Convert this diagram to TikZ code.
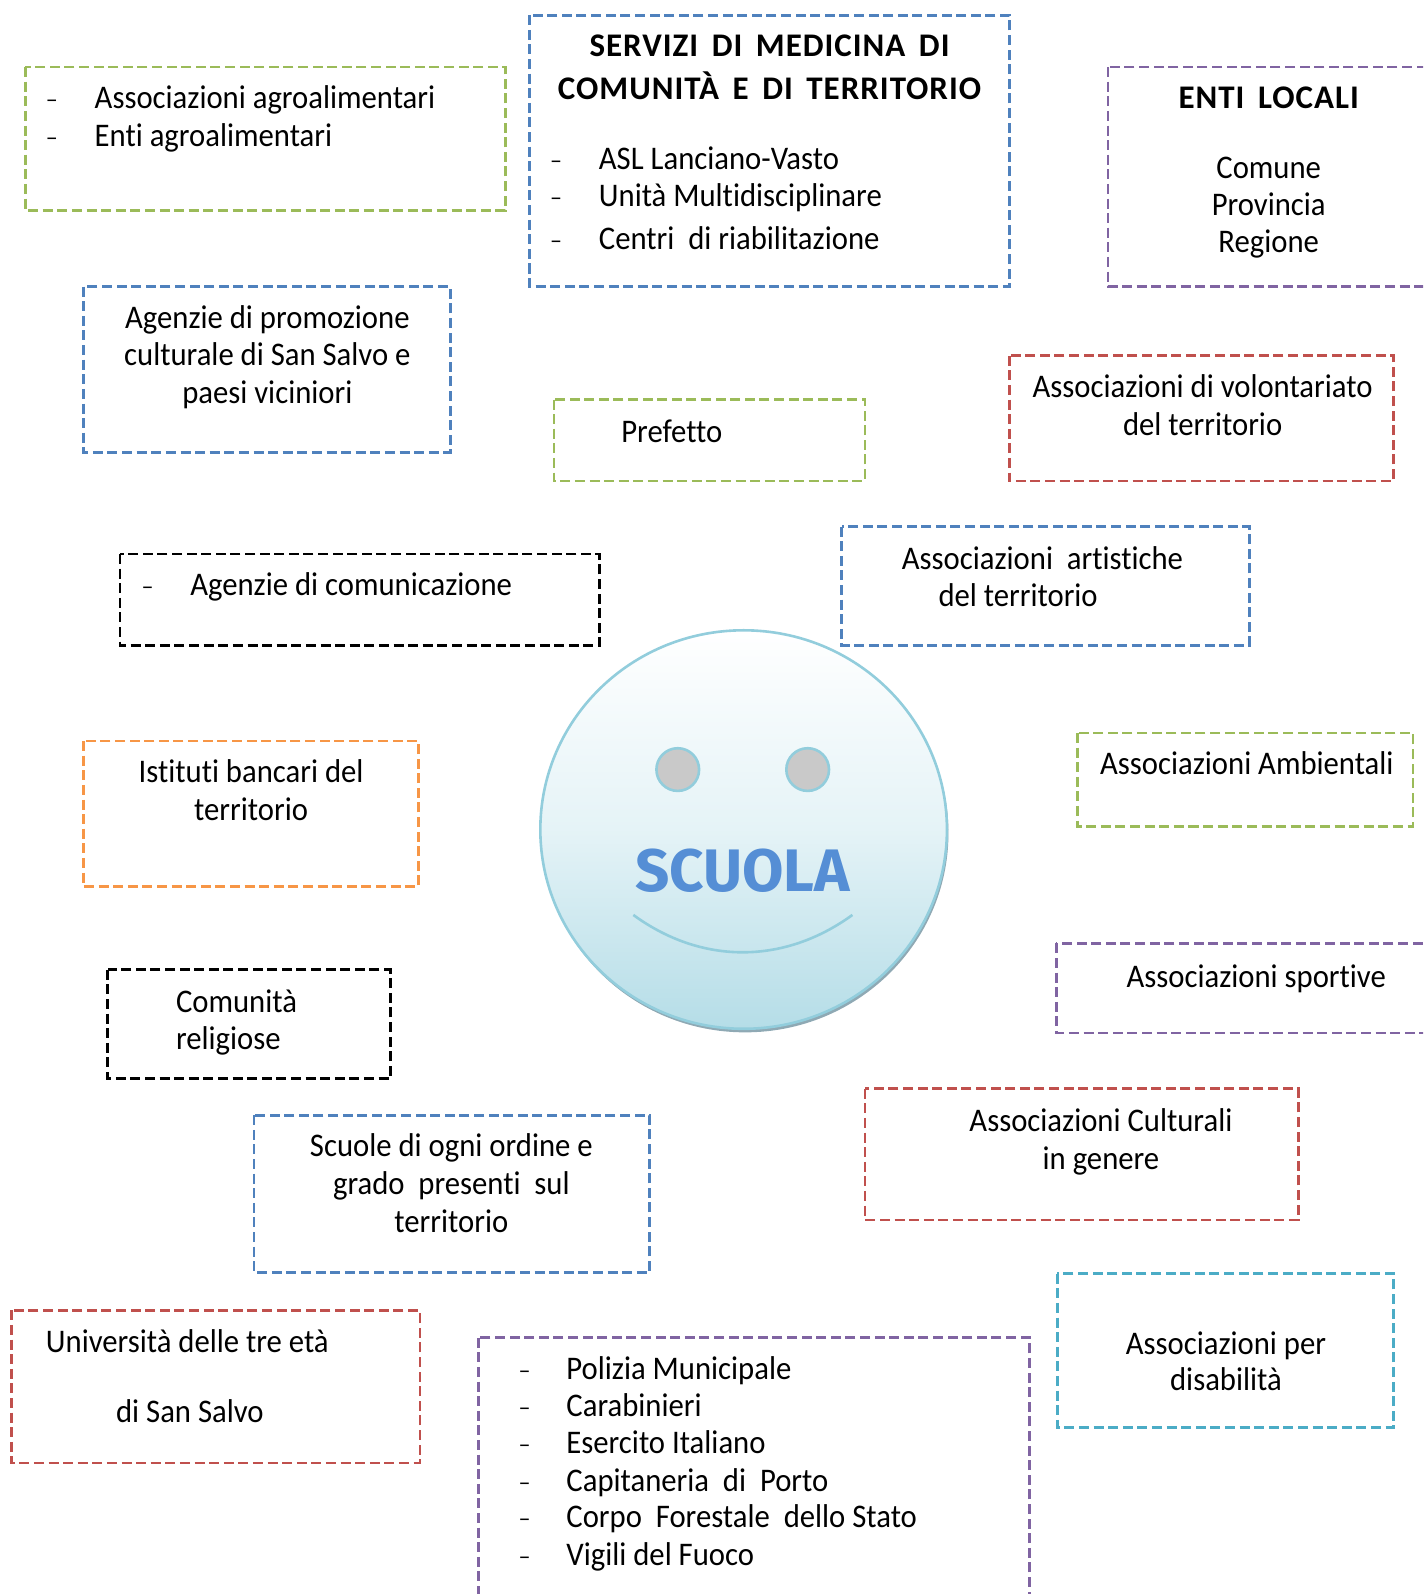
\documentclass[tikz,border=0pt]{standalone}
\usepackage{fontspec}
\usetikzlibrary{shapes.geometric}
\newfontfamily\bodyfn[FakeStretch=0.93,Ligatures=NoCommon]{Carlito}
\newfontfamily\headfn[FakeStretch=1.0,LetterSpace=3,Ligatures=NoCommon,WordSpace=1.6]{Carlito Bold}
\newfontfamily\dashfn{Carlito}
\newfontfamily\logofn{Fira Sans Bold}
\definecolor{cgreen}{HTML}{9BBB59}
\definecolor{cblue}{HTML}{4F81BD}
\definecolor{cpurple}{HTML}{8064A2}
\definecolor{cred}{HTML}{C0504D}
\definecolor{corange}{HTML}{F79646}
\definecolor{cteal}{HTML}{4BACC6}
\definecolor{cface}{HTML}{92CDDC}
\definecolor{clogo}{HTML}{558ED5}
\definecolor{cshadow}{HTML}{8FA9B4}
\tikzset{
  frame/.style={draw=#1,line width=2.7pt,dash pattern=on 10pt off 4.6pt},
  txl/.style={anchor=base west,inner sep=0pt,yshift=-1pt,text=black,font=\bodyfn\fontsize{33}{37}\selectfont},
  txc/.style={anchor=base,inner sep=0pt,yshift=-1pt,text=black,font=\bodyfn\fontsize{33}{37}\selectfont},
  head/.style={anchor=base,inner sep=0pt,yshift=-1pt,text=black,font=\headfn\fontsize{33}{37}\selectfont},
  dsh/.style={anchor=base west,inner sep=0pt,text=black,font=\dashfn\fontsize{24}{24}\selectfont},
}
\begin{document}
\begin{tikzpicture}[x=1.0164pt,y=-1.0164pt]
\useasboundingbox (0,0) rectangle (1400,1568);
\clip (0,0) rectangle (1400,1568);
% frames
\draw[frame=cgreen] (25,66) rectangle (497,207);
\draw[frame=cblue] (521,15) rectangle (993,282);
\draw[frame=cpurple] (1090,66) rectangle (1440,282);
\draw[frame=cblue] (82,282) rectangle (443,445);
\draw[frame=cgreen] (545,393) rectangle (851,473);
\draw[frame=cred] (993,350) rectangle (1371,473);
\draw[frame=black] (118,545) rectangle (590,635);
\draw[frame=cblue] (828,518) rectangle (1229,635);
\draw[frame=corange] (82,729) rectangle (412,872);
\draw[frame=cgreen] (1060,721) rectangle (1390,813);
\draw[frame=black] (106,954) rectangle (384,1061);
\draw[frame=cpurple] (1039,928) rectangle (1440,1016);
\draw[frame=cblue] (250,1097) rectangle (639,1252);
\draw[frame=cred] (851,1071) rectangle (1277,1200);
\draw[frame=cred] (11,1289) rectangle (413,1439);
\draw[frame=cteal] (1040,1253) rectangle (1371,1404);
\draw[frame=cpurple] (471,1316) rectangle (1013,1620);
% face
\path[fill=cshadow] (733,819.5) ellipse [x radius=200,y radius=196];
\shade[top color=white,bottom color=cface!68,middle color=cface!24,draw=cface,line width=2.6pt] (731.5,816) ellipse [x radius=200,y radius=196];
\path[draw=cface,line width=2.6pt,fill=black!21] (666.7,757) circle (21);
\path[draw=cface,line width=2.6pt,fill=black!21] (794.5,757) circle (21);
\draw[cface,line width=2.6pt] (623,900) .. controls (690,949) and (771,949) .. (838.5,900);
\node[anchor=base,inner sep=0pt,text=clogo,font=\logofn\fontsize{60}{60}\selectfont] (logo) at (730.5,877) {SCUOLA};
% texts
\node[dsh] (d1) at (45,106) {–};
\node[txl] (t1) at (93,106) {Associazioni agroalimentari};
\node[dsh] (d2) at (45,143) {–};
\node[txl] (t2) at (93,143) {Enti agroalimentari};
\node[head] (h1) at (757,55) {SERVIZI DI MEDICINA DI};
\node[head] (h2) at (757,97) {COMUNITÀ E DI TERRITORIO};
\node[dsh] (d3) at (541,166) {–};
\node[txl] (t3) at (589,166) {ASL Lanciano-Vasto};
\node[dsh] (d4) at (541,202) {–};
\node[txl] (t4) at (589,202) {Unità Multidisciplinare};
\node[dsh] (d5) at (541,244) {–};
\node[txl] (t5) at (589,244) {Centri~ di riabilitazione};
\node[head] (h3) at (1248,106) {ENTI LOCALI};
\node[txc] (t6) at (1248,175) {Comune};
\node[txc] (t7) at (1248,211) {Provincia};
\node[txc] (t8) at (1248,247) {Regione};
\node[txc] (t9) at (263,322) {Agenzie di promozione};
\node[txc] (t10) at (263,359) {culturale di San Salvo e};
\node[txc] (t11) at (263,396) {paesi viciniori};
\node[txl] (t12) at (611,434) {Prefetto};
\node[txc] (t13) at (1183,390) {Associazioni di volontariato};
\node[txc] (t14) at (1183,427) {del territorio};
\node[dsh] (d6) at (139,585) {–};
\node[txl] (t15) at (187,585) {Agenzie di comunicazione};
\node[txl] (t16) at (887,559) {Associazioni~ artistiche};
\node[txl] (t17) at (923,596) {del territorio};
\node[txc] (t18) at (247,769) {Istituti bancari del};
\node[txc] (t19) at (247,806) {territorio};
\node[txl] (t20) at (1082,761) {Associazioni Ambientali};
\node[txl] (t21) at (173,995) {Comunità};
\node[txl] (t22) at (173,1031) {religiose};
\node[txl] (t23) at (1108,970) {Associazioni sportive};
\node[txc] (t24) at (444,1137) {Scuole di ogni ordine e};
\node[txc] (t25) at (444,1174) {grado~ presenti~ sul};
\node[txc] (t26) at (444,1211) {territorio};
\node[txc] (t27) at (1083,1112) {Associazioni Culturali};
\node[txc] (t28) at (1083,1149) {in genere};
\node[txl] (t29) at (45,1329) {Università delle tre età};
\node[txl] (t30) at (114,1398) {di San Salvo};
\node[txc] (t31) at (1206,1331) {Associazioni per};
\node[txc] (t32) at (1206,1367) {disabilità};
\node[dsh] (d7) at (510,1356) {–};
\node[txl] (t33) at (557,1356) {Polizia Municipale};
\node[dsh] (d8) at (510,1392) {–};
\node[txl] (t34) at (557,1392) {Carabinieri};
\node[dsh] (d9) at (510,1429) {–};
\node[txl] (t35) at (557,1429) {Esercito Italiano};
\node[dsh] (d10) at (510,1466) {–};
\node[txl] (t36) at (557,1466) {Capitaneria~ di~ Porto};
\node[dsh] (d11) at (510,1502) {–};
\node[txl] (t37) at (557,1502) {Corpo~ Forestale~ dello Stato};
\node[dsh] (d12) at (510,1539) {–};
\node[txl] (t38) at (557,1539) {Vigili del Fuoco};
\end{tikzpicture}
\end{document}
